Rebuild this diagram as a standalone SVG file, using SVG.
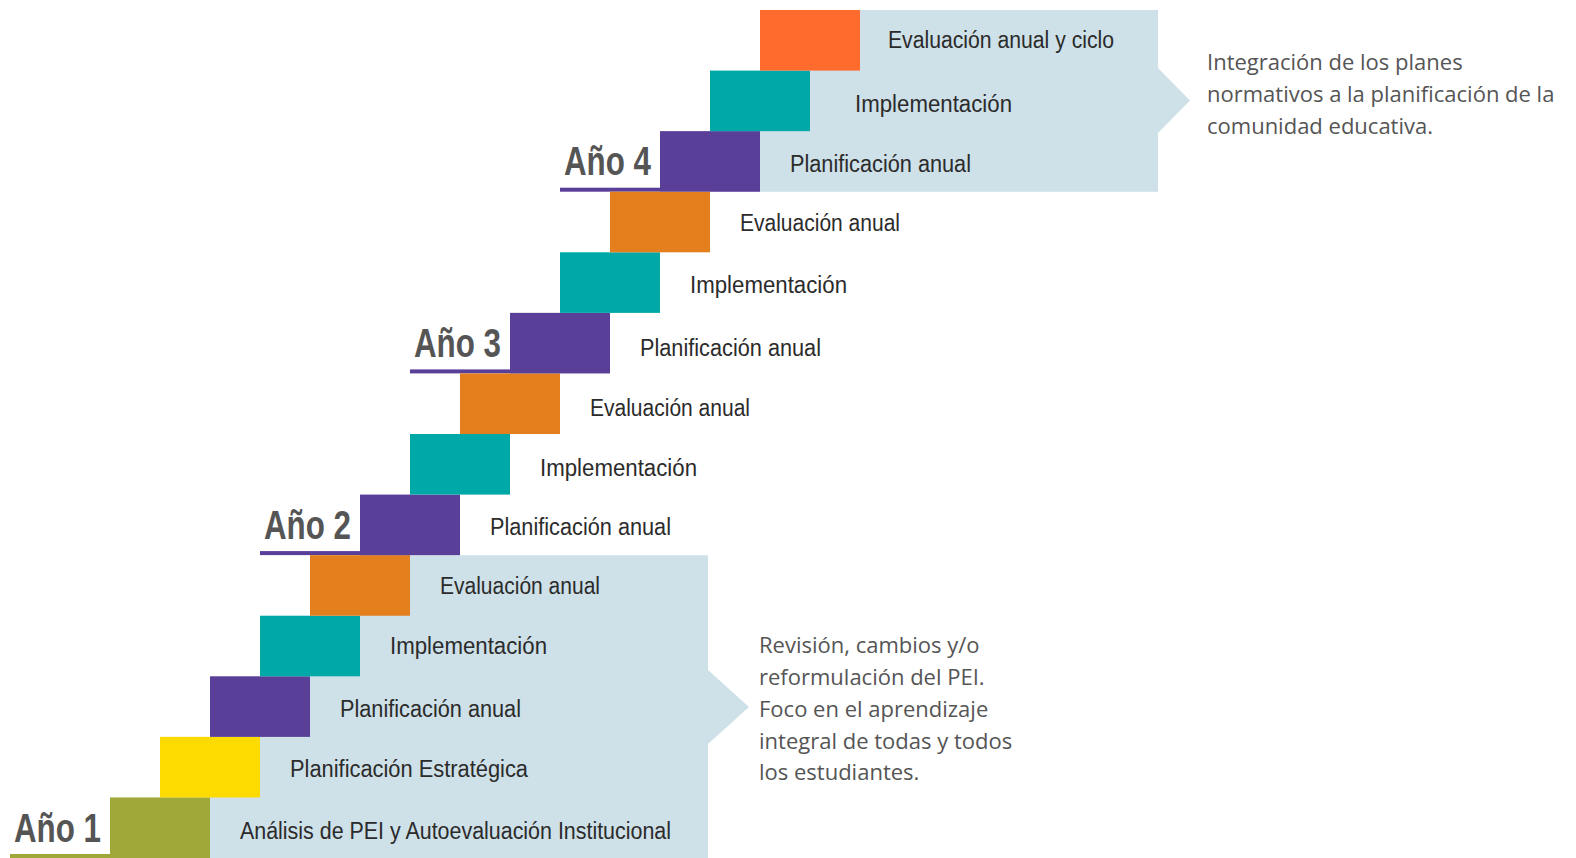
<svg xmlns="http://www.w3.org/2000/svg" width="1576" height="858" viewBox="0 0 1576 858">
<style>
.lbl{font-family:"Liberation Sans",Arial,sans-serif;font-size:23px;fill:#2b2b2b}
.ano{font-family:"Liberation Sans",Arial,sans-serif;font-weight:bold;font-size:40px;fill:#555555;text-anchor:end}
.note{font-family:"Open Sans","Noto Sans",sans-serif;font-size:22px;fill:#555555}
.olive{fill:#A0A83A}.yellow{fill:#FEDB00}.purple{fill:#593F98}.teal{fill:#00A9A8}.orange{fill:#E47F1D}.red{fill:#FE6B2D}
.band{fill:#CEE0E8}
</style>
<rect width="1576" height="858" fill="#ffffff"/>
<g id="bands">
<path class="band" d="M360 555.14 H708 V670 L749 707 L708 744 V858 H160 V797.43 H210 V736.86 H260 V676.29 H310 V615.71 H360 Z"/>
<path class="band" d="M810 10 H1158 V68 L1190 100.5 L1158 133 V191.71 H710 V131.14 H760 V70.57 H810 Z"/>
</g>
<g id="underlines">
<rect class="olive" x="10" y="854" width="100" height="4"/>
<rect class="purple" x="260" y="551.1" width="100" height="4"/>
<rect class="purple" x="410" y="369.4" width="100" height="4"/>
<rect class="purple" x="560" y="187.7" width="100" height="4"/>
</g>
<g id="step0"><rect class="olive" x="110" y="797.43" width="100" height="60.6"/><text class="lbl" x="240" y="839" textLength="431" lengthAdjust="spacingAndGlyphs">Análisis de PEI y Autoevaluación Institucional</text></g>
<g id="step1"><rect class="yellow" x="160" y="736.86" width="100" height="60.6"/><text class="lbl" x="290" y="777" textLength="238" lengthAdjust="spacingAndGlyphs">Planificación Estratégica</text></g>
<g id="step2"><rect class="purple" x="210" y="676.29" width="100" height="60.6"/><text class="lbl" x="340" y="717" textLength="181" lengthAdjust="spacingAndGlyphs">Planificación anual</text></g>
<g id="step3"><rect class="teal" x="260" y="615.71" width="100" height="60.6"/><text class="lbl" x="390" y="654" textLength="157" lengthAdjust="spacingAndGlyphs">Implementación</text></g>
<g id="step4"><rect class="orange" x="310" y="555.14" width="100" height="60.6"/><text class="lbl" x="440" y="594" textLength="160" lengthAdjust="spacingAndGlyphs">Evaluación anual</text></g>
<g id="step5"><rect class="purple" x="360" y="494.57" width="100" height="60.6"/><text class="lbl" x="490" y="535" textLength="181" lengthAdjust="spacingAndGlyphs">Planificación anual</text></g>
<g id="step6"><rect class="teal" x="410" y="434" width="100" height="60.6"/><text class="lbl" x="540" y="476" textLength="157" lengthAdjust="spacingAndGlyphs">Implementación</text></g>
<g id="step7"><rect class="orange" x="460" y="373.43" width="100" height="60.6"/><text class="lbl" x="590" y="416" textLength="160" lengthAdjust="spacingAndGlyphs">Evaluación anual</text></g>
<g id="step8"><rect class="purple" x="510" y="312.86" width="100" height="60.6"/><text class="lbl" x="640" y="356" textLength="181" lengthAdjust="spacingAndGlyphs">Planificación anual</text></g>
<g id="step9"><rect class="teal" x="560" y="252.29" width="100" height="60.6"/><text class="lbl" x="690" y="293" textLength="157" lengthAdjust="spacingAndGlyphs">Implementación</text></g>
<g id="step10"><rect class="orange" x="610" y="191.71" width="100" height="60.6"/><text class="lbl" x="740" y="231" textLength="160" lengthAdjust="spacingAndGlyphs">Evaluación anual</text></g>
<g id="step11"><rect class="purple" x="660" y="131.14" width="100" height="60.6"/><text class="lbl" x="790" y="172" textLength="181" lengthAdjust="spacingAndGlyphs">Planificación anual</text></g>
<g id="step12"><rect class="teal" x="710" y="70.57" width="100" height="60.6"/><text class="lbl" x="855" y="112" textLength="157" lengthAdjust="spacingAndGlyphs">Implementación</text></g>
<g id="step13"><rect class="red" x="760" y="10" width="100" height="60.6"/><text class="lbl" x="888" y="48" textLength="226" lengthAdjust="spacingAndGlyphs">Evaluación anual y ciclo</text></g>
<g id="years">
<text class="ano" x="101" y="842" textLength="87" lengthAdjust="spacingAndGlyphs">Año 1</text>
<text class="ano" x="351" y="539" textLength="87" lengthAdjust="spacingAndGlyphs">Año 2</text>
<text class="ano" x="501" y="357" textLength="87" lengthAdjust="spacingAndGlyphs">Año 3</text>
<text class="ano" x="651" y="175" textLength="87" lengthAdjust="spacingAndGlyphs">Año 4</text>
</g>
<g id="note1">
<text class="note" x="759" y="653">Revisión, cambios y/o</text>
<text class="note" x="759" y="684.5">reformulación del PEI.</text>
<text class="note" x="759" y="716.5">Foco en el aprendizaje</text>
<text class="note" x="759" y="748.5">integral de todas y todos</text>
<text class="note" x="759" y="780">los estudiantes.</text>
</g>
<g id="note2">
<text class="note" x="1207" y="70">Integración de los planes</text>
<text class="note" x="1207" y="102">normativos a la planificación de la</text>
<text class="note" x="1207" y="133.5">comunidad educativa.</text>
</g>
</svg>
